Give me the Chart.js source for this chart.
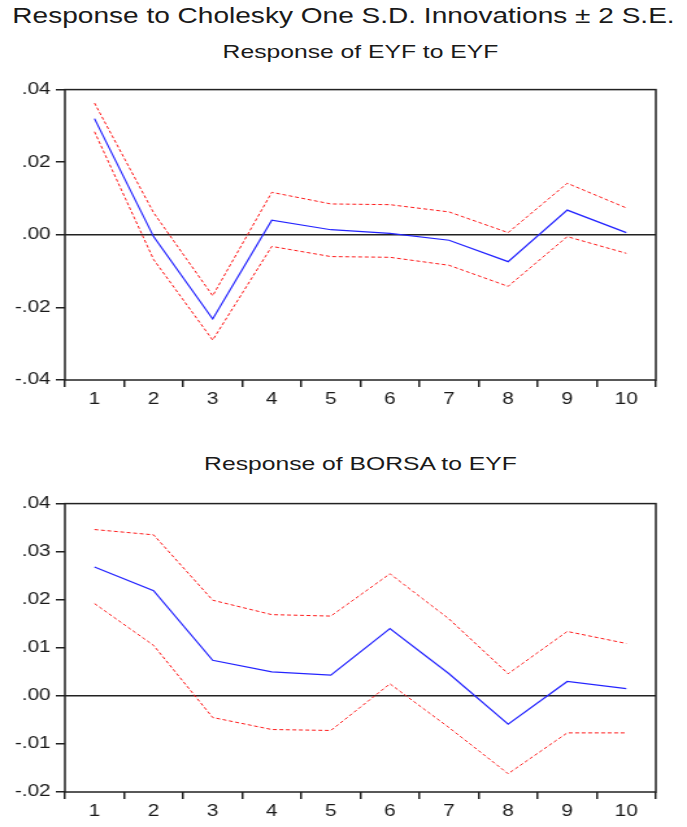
<!DOCTYPE html>
<html>
<head>
<meta charset="utf-8">
<script src="https://cdn.jsdelivr.net/npm/chart.js@4/dist/chart.umd.min.js"></script>
<style>
  body { margin: 0; background: #fff; width: 687px; height: 827px; position: relative; overflow: hidden; font-family: Arial, "Liberation Sans", sans-serif; }
  /* the whole figure is drawn 529px wide and widened to 687px */
  .wide { position: absolute; transform: scaleX(1.2987); transform-origin: 0 0; }
  .title { left: 0; width: 529px; text-align: center; color: #1a1a1a; white-space: nowrap; }
  #mainTitle { top: 3px; font-size: 21.6px; }
  .sub { font-size: 19px; left: 65px; width: 455px; }
  #sub1 { top: 41px; }
  #sub2 { top: 453px; }
  canvas.wide { left: 0; }
  #irfTop { top: 76px; }
  #irfBottom { top: 490px; }
</style>
</head>
<body>
<div class="wide title" id="mainTitle">Response to Cholesky One S.D. Innovations ± 2 S.E.</div>
<div class="wide title sub" id="sub1">Response of EYF to EYF</div>
<div class="wide title sub" id="sub2">Response of BORSA to EYF</div>
<canvas class="wide" id="irfTop" width="529" height="334"></canvas>
<canvas class="wide" id="irfBottom" width="529" height="330"></canvas>
<script>
const periods = ['1', '2', '3', '4', '5', '6', '7', '8', '9', '10'];

const eyfResponse = [0.0320, -0.0005, -0.0232, 0.0040, 0.0014, 0.0004, -0.0015, -0.0074, 0.0068, 0.0006];
const eyfUpper = [0.0363, 0.0061, -0.0168, 0.0117, 0.0085, 0.0083, 0.0063, 0.0006, 0.0142, 0.0074];
const eyfLower = [0.0284, -0.0068, -0.0290, -0.0032, -0.0060, -0.0062, -0.0084, -0.0142, -0.0005, -0.0051];

const borsaResponse = [0.0268, 0.0219, 0.0074, 0.0050, 0.0043, 0.0140, 0.0046, -0.0059, 0.0030, 0.0015];
const borsaUpper = [0.0346, 0.0335, 0.0199, 0.0169, 0.0166, 0.0254, 0.0160, 0.0046, 0.0134, 0.0109];
const borsaLower = [0.0192, 0.0105, -0.0045, -0.0070, -0.0072, 0.0025, -0.0066, -0.0162, -0.0077, -0.0077];

// closes the plot box on top and right like the axes do on the left and bottom
const frameBox = {
    id: 'frameBox',
    afterDraw(chart) {
        const { ctx, chartArea: a } = chart;
        ctx.save();
        ctx.strokeStyle = '#222';
        ctx.lineWidth = 1.5;
        ctx.strokeRect(a.left, a.top, a.right - a.left, a.bottom - a.top);
        ctx.restore();
    }
};

function fmtTick(v) {
    if (Math.abs(v) < 1e-9) return '.00';
    const s = Math.abs(v).toFixed(2).replace(/^0/, '');
    return (v < 0 ? '-' : '') + s;
}

function makeIrfChart(id, mid, upper, lower, yMin, yMax, step, padTop, xHeight) {
    const band = (data) => ({
        data: data,
        borderColor: '#ff1a1a',
        borderWidth: 1,
        borderDash: [3, 2],
        pointRadius: 0,
        tension: 0
    });
    return new Chart(document.getElementById(id), {
        type: 'line',
        data: {
            labels: periods,
            datasets: [
                { data: mid, borderColor: '#2424ff', borderWidth: 1.2, pointRadius: 0, tension: 0 },
                band(upper),
                band(lower)
            ]
        },
        options: {
            responsive: false,
            animation: false,
            layout: { padding: { top: padTop, right: 24, left: 0, bottom: 0 } },
            plugins: { legend: { display: false }, tooltip: { enabled: false } },
            scales: {
                x: {
                    offset: true,
                    grid: { offset: true, drawOnChartArea: false, tickLength: 7, tickColor: '#222', lineWidth: 1.5 },
                    border: { display: false },
                    ticks: { color: '#1a1a1a', font: { family: 'Arial', size: 16 }, padding: 3, maxRotation: 0 },
                    afterFit(scale) { scale.height = xHeight; }
                },
                y: {
                    min: yMin,
                    max: yMax,
                    grid: {
                        drawOnChartArea: true,
                        tickLength: 7,
                        tickColor: '#222',
                        lineWidth: 1.5,
                        color: (c) => (c.tick && Math.abs(c.tick.value) < 1e-9) ? '#222' : 'rgba(0,0,0,0)'
                    },
                    border: { display: false },
                    ticks: { stepSize: step, color: '#1a1a1a', font: { family: 'Arial', size: 16 }, padding: 4, callback: fmtTick },
                    afterFit(scale) { scale.width = 50; }
                }
            }
        },
        plugins: [frameBox]
    });
}

makeIrfChart('irfTop', eyfResponse, eyfUpper, eyfLower, -0.04, 0.04, 0.02, 2, 30);
makeIrfChart('irfBottom', borsaResponse, borsaUpper, borsaLower, -0.02, 0.04, 0.01, 7, 28);
</script>
</body>
</html>
